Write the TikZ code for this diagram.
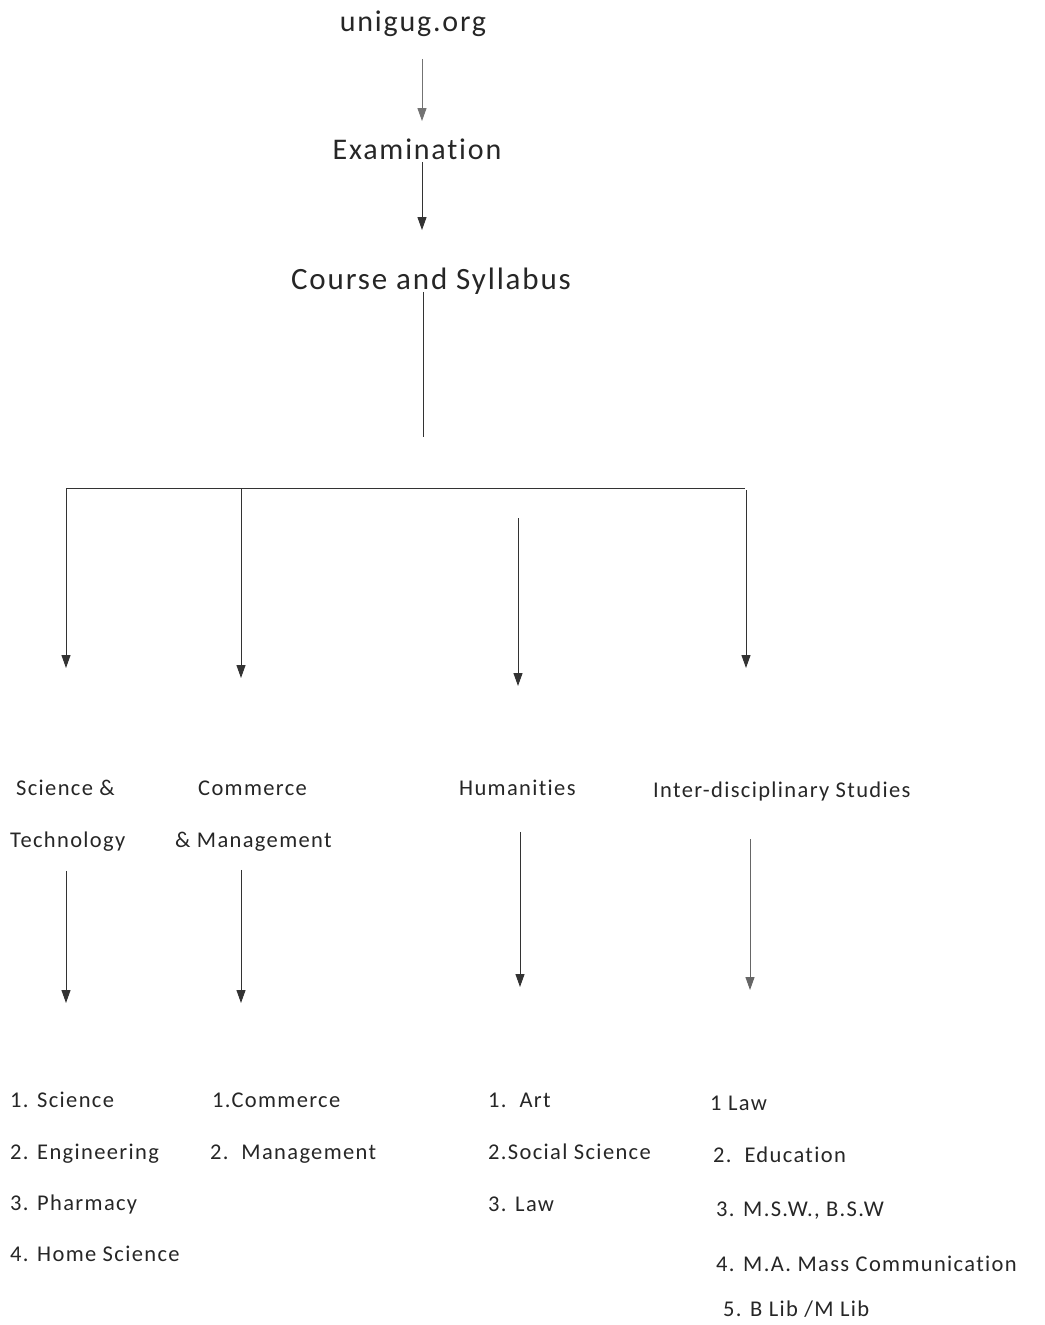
\documentclass[tikz,border=0pt]{standalone}
\usepackage{fontspec}
\setmainfont{Carlito}[Ligatures=NoCommon,LetterSpace=6]
\usetikzlibrary{arrows.meta}
\begin{document}
\begin{tikzpicture}[x=1pt,y=-1pt,
  txt/.style={inner sep=0pt,text height=0.7em,text depth=0.25em,text=black!85,yshift=-7pt},
  big/.style={txt,font=\fontsize{30}{34}\selectfont},
  cat/.style={txt,anchor=west,font=\fontsize{22.5}{26}\selectfont},
  item/.style={txt,anchor=west,font=\fontsize{22.5}{26}\selectfont},
  ln/.style={draw=black!80,line width=1pt},
  arr/.style={ln,-{Triangle[length=13pt,width=9pt]}}]
\useasboundingbox (0,0) rectangle (1044,1325);
% titles
\node[big] (uni) at (413,22) {unigug.org};
\node[big] (exam) at (417,150) {Examination};
\node[big,font=\fontsize{31}{35}\selectfont] (course) at (431,280) {Course and Syllabus};
% guide coordinates
\coordinate (ax) at (422,0);
\coordinate (cx) at (423,0);
\coordinate (cdrop) at (423,437);
\coordinate (bl) at (66,488);
\coordinate (b2) at (241,488);
\coordinate (br) at (745,488);
\coordinate (b3) at (518,518);
\coordinate (b4) at (746,490);
\coordinate (t1) at (66,668);
\coordinate (t2) at (241,678);
\coordinate (t3) at (518,686);
\coordinate (t4) at (746,668);
\draw[arr,draw=black!55,shorten <=25pt,shorten >=31pt] (uni.south -| ax) -- (exam.north -| ax);
\draw[arr,shorten >=52pt] (exam.south -| ax) -- (course.north -| ax);
\draw[ln,line width=0.8pt] (course.south -| cx) -- (cdrop);
\draw[ln] (bl) -- (br);
\draw[arr] (bl) -- (t1);
\draw[arr] (b2) -- (t2);
\draw[arr] (b3) -- (t3);
\draw[arr] (b4) -- (t4);
% categories
\node[cat] (sci) at (16,786) {Science \&};
\node[cat] (tech) at (10,838) {Technology};
\node[cat] (com) at (198,786) {Commerce};
\node[cat] (mgmt) at (175,838) {\& Management};
\node[cat] (hum) at (459,786) {Humanities};
\node[cat] (inter) at (653,788) {Inter-disciplinary Studies};
% second-level arrows
\coordinate (c1) at (66,0);
\coordinate (c2) at (241,0);
\coordinate (c3) at (520,0);
\coordinate (c4) at (750,0);
\coordinate (e1) at (66,1003);
\coordinate (e2) at (241,1003);
\coordinate (e3) at (520,987);
\coordinate (e4) at (750,990);
\draw[arr,shorten <=21pt] (tech.south -| c1) -- (e1);
\draw[arr,shorten <=20pt] (mgmt.south -| c2) -- (e2);
\draw[arr,shorten <=34pt] (hum.south -| c3) -- (e3);
\draw[arr,draw=black!60,shorten <=39pt] (inter.south -| c4) -- (e4);
% lists
\node[item] (s1) at (10,1098) {1. Science};
\node[item] (s2) at (10,1150) {2. Engineering};
\node[item] (s3) at (10,1201) {3. Pharmacy};
\node[item] (s4) at (10,1252) {4. Home Science};
\node[item] (m1) at (212,1098) {1.Commerce};
\node[item] (m2) at (210,1150) {2.\ \ Management};
\node[item] (h1) at (488,1098) {1.\ \ Art};
\node[item] (h2) at (488,1150) {2.Social Science};
\node[item] (h3) at (488,1202) {3. Law};
\node[item] (i1) at (710,1101) {1 Law};
\node[item] (i2) at (713,1153) {2.\ \ Education};
\node[item] (i3) at (716,1207) {3. M.S.W., B.S.W};
\node[item] (i4) at (716,1262) {4. M.A. Mass Communication};
\node[item] (i5) at (723,1307) {5. B Lib /M Lib};
\end{tikzpicture}
\end{document}
